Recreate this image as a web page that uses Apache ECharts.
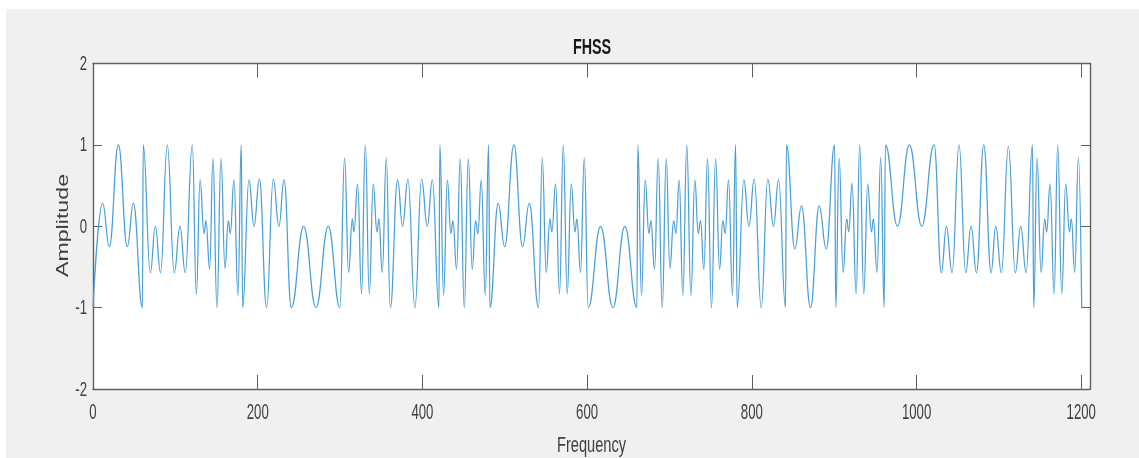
<!DOCTYPE html>
<html><head><meta charset="utf-8">
<style>html,body{margin:0;padding:0;background:#fff;overflow:hidden}
#bg{position:absolute;left:6px;top:9px;width:1133px;height:449px;background:#f0f0f0}
#c{position:absolute;left:0;top:0;width:1139px;height:458px}</style>
<script src="https://cdn.jsdelivr.net/npm/echarts@6/dist/echarts.min.js"></script>
</head><body><div id="bg"></div><div id="c"></div>
<script>
const titleText = 'FHSS', xName = 'Frequency', yName = 'Amplitude';
const xTicks = [0,200,400,600,800,1000,1200];
const yTicks = [-2,-1,0,1,2];
const frequency = [0,11.7,19.8,30.8,41.7,49,60,61,69.6,75.7,82,90.2,98.7,105.6,112,120.6,125.5,130,134.8,137.2,141.6,145.7,150.5,155.4,160.3,164.3,166.7,171.2,176,180,181.7,189.4,195.5,202,210.8,218.9,225.8,231.9,240.8,255.8,270.7,285.7,299.8,305.5,310.4,314.8,316.8,321.3,326.1,330.6,335.5,340.3,344.8,347.2,351.2,356.1,361,369.9,375.9,382.4,390.9,399,405.9,412,420,421.2,425.7,430.2,434.6,437,441.5,445.9,450.8,455.7,460.5,464.5,467.4,471.4,476.3,480.3,482,492,499.8,511.1,521.6,529.7,541,545.5,550.3,554.8,557.2,561.7,566.5,571,575.8,580.7,585.2,587.6,592,596.5,601.3,616.3,631.3,645.8,660.4,661.6,666,670.5,675,677.4,681.8,686.3,691.2,696,700.5,705,707.8,711.8,716.2,721,726,730.8,734.9,737.7,741.7,746.2,751,756,760.8,764.8,767.6,771.7,776.5,780.2,782.2,790.3,796.4,802.9,811.4,819.4,826.3,832.4,840.9,842,852.2,860.3,871.2,881.8,890.3,900.5,901.9,906,910.8,915.2,917.7,921.7,926.6,931,935.9,940.7,945.2,947.6,952,956.5,960.6,962.2,976.8,991.3,1006.3,1021.3,1030.2,1036.2,1043.1,1051.6,1059.7,1066.2,1072.7,1081.6,1090.5,1096.1,1103,1111.5,1120,1126.5,1133,1140.7,1142.3,1146.3,1151.2,1155.6,1158,1162.1,1167,1171.4,1176.3,1181.1,1185.6,1188,1192,1196.5,1200.5];
const amplitude = [-1,.28,-.25,1,-.25,.28,-1,1,-.57,0,-.57,1,-.57,0,-.57,1,-.84,.57,-.09,.07,-.53,.83,-1,.83,-.52,.07,-.09,.57,-.85,1,-1,.57,0,.58,-1,.58,0,.57,-1,0,-1,0,-1,.84,-.57,.09,-.07,.52,-.83,1,-.83,.52,-.07,.09,-.57,.84,-1,.57,0,.58,-1,.58,0,.57,-1,1,-.85,.57,-.09,.07,-.53,.83,-1,.83,-.53,.07,-.09,.57,-.85,1,-1,.28,-.25,1,-.25,.28,-1,.84,-.57,.09,-.07,.52,-.83,1,-.83,.52,-.07,.09,-.57,.84,-1,0,-1,0,-1,1,-.85,.57,-.09,.07,-.53,.83,-1,.83,-.52,.07,-.09,.57,-.85,1,-.85,.57,-.09,.07,-.53,.83,-1,.83,-.53,.07,-.09,.57,-.85,1,-1,.57,0,.58,-1,.58,0,.57,-1,1,-.28,.25,-1,.25,-.28,1,-1,.84,-.57,.09,-.07,.53,-.83,1,-.83,.52,-.07,.09,-.57,.85,-1,1,0,1,0,1,-.57,0,-.57,1,-.57,0,-.57,1,-.57,0,-.57,.98,-.57,0,-.57,1,-1,.84,-.57,.09,-.07,.52,-.83,1,-.83,.52,-.07,.09,-.57,.84,-1];
const xTickStep = 200, xMin = 0, xMax = 1210.6;
const yTickStep = 1, yMin = -2, yMax = 2;

const face = '"Liberation Sans",Arial,sans-serif';
const axisColor = '#5f5f5f', textColor = '#404040';
const line = {show:true,onZero:false,lineStyle:{color:axisColor,width:1.4}};
const tickStyle = {color:axisColor,width:1};
const chart = echarts.init(document.getElementById('c'),null,{renderer:'canvas'});
chart.setOption({
  backgroundColor:'transparent',
  animation:false,
  grid:{left:93,top:63.5,right:49,bottom:69,show:true,backgroundColor:'#fff',borderWidth:0},
  xAxis:[
   {type:'value',position:'bottom',min:xMin,max:xMax,interval:xTickStep,
    axisLine:line,splitLine:{show:false},
    axisTick:{show:true,inside:true,length:14,lineStyle:tickStyle},axisLabel:{show:false}},
   {type:'value',position:'top',min:xMin,max:xMax,interval:xTickStep,
    axisLine:line,splitLine:{show:false},
    axisTick:{show:true,inside:true,length:14,lineStyle:tickStyle},axisLabel:{show:false}}],
  yAxis:[
   {type:'value',position:'left',min:yMin,max:yMax,interval:yTickStep,
    axisLine:line,splitLine:{show:false},
    axisTick:{show:true,inside:true,length:9,lineStyle:tickStyle},axisLabel:{show:false}},
   {type:'value',position:'right',min:yMin,max:yMax,interval:yTickStep,
    axisLine:line,splitLine:{show:false},
    axisTick:{show:true,inside:true,length:9,lineStyle:tickStyle},axisLabel:{show:false}}],
  series:[{type:'line',xAxisIndex:0,yAxisIndex:0,showSymbol:false,symbol:'none',
    smooth:0.45,smoothMonotone:'x',
    lineStyle:{color:'#4a9fd6',width:1.25},
    data:frequency.map((f,i)=>[f,amplitude[i]])}]
});
// The reference text is horizontally condensed, so labels are real text drawn with a scale.
function label(text,x,y,size,scaleX,opts){
  opts = opts || {};
  return {type:'text',x,y,scaleX,scaleY:1,rotation:opts.rotation||0,silent:true,z:10,
    style:{text,font:(opts.weight||'normal')+' '+size+'px '+face,fill:opts.fill||textColor,
      align:opts.align||'center',verticalAlign:'middle'}};
}
const gridTop = chart.convertToPixel({yAxisIndex:0},yMax);
const gridBottom = chart.convertToPixel({yAxisIndex:0},yMin);
const gridLeft = chart.convertToPixel({xAxisIndex:0},xMin);
const texts = [];
xTicks.forEach(v=>texts.push(label(String(v),chart.convertToPixel({xAxisIndex:0},v),gridBottom+24,22,0.6)));
yTicks.forEach(v=>texts.push(label(String(v),gridLeft-6,chart.convertToPixel({yAxisIndex:0},v)+1,20,0.66,{align:'right'})));
texts.push(label(titleText,592,gridTop-16,22,0.65,{weight:'bold',fill:'#1a1a1a'}));
texts.push(label(xName,591.5,446,21.5,0.68));
texts.push(label(yName,63,225.5,16.7,1.39,{rotation:Math.PI/2}));
chart.setOption({graphic:{elements:texts}});
</script></body></html>
